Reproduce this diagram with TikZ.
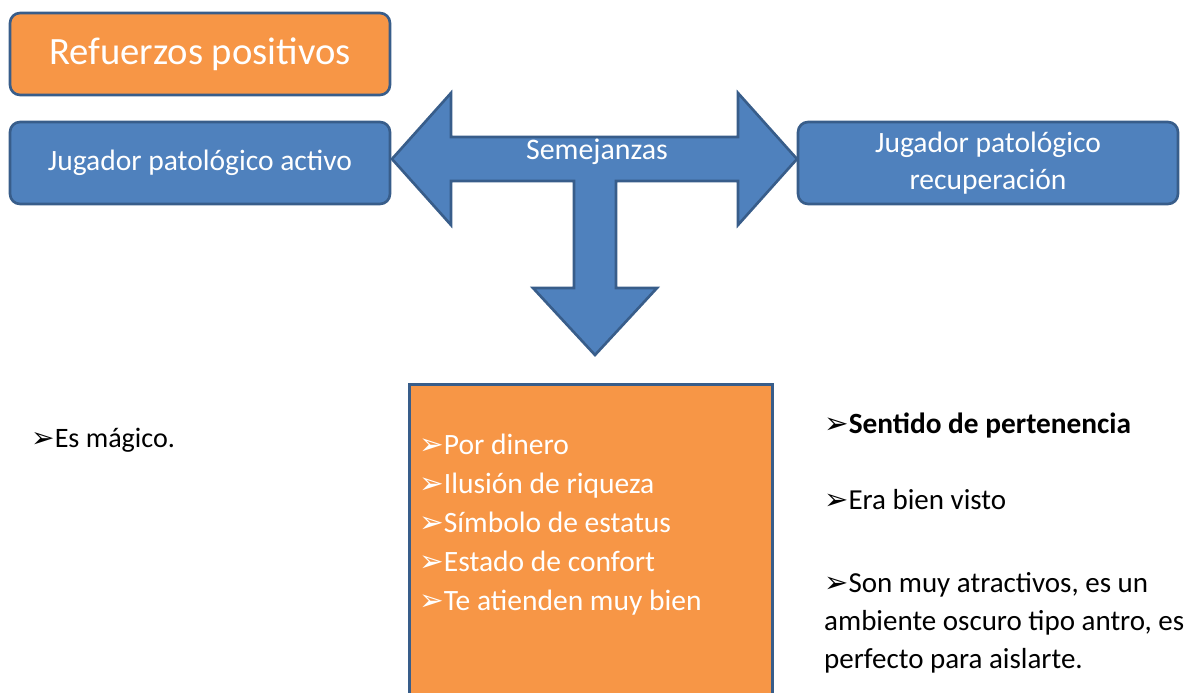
\documentclass[tikz,border=0pt]{standalone}
\usepackage{fontspec}
\setmainfont{Carlito}
\newfontfamily\symfont{DejaVu Sans}
\newcommand{\bul}{{\symfont\char"27A2}}
\definecolor{boxorange}{HTML}{F79646}
\definecolor{boxblue}{HTML}{4F81BD}
\definecolor{edgeblue}{HTML}{385D8A}

\begin{document}
\begin{tikzpicture}[x=0.02cm,y=-0.02cm,
  roundbox/.style={draw=edgeblue,line width=1.5pt,rounded corners=0.2cm,minimum width=7.6cm,minimum height=1.64cm,text=white,align=center},
  bluebox/.style={roundbox,fill=boxblue,font=\fontsize{16.8}{21}\selectfont},
  orangebox/.style={roundbox,fill=boxorange,font=\fontsize{22}{26}\selectfont},
  listbox/.style={draw=edgeblue,line width=1.5pt,fill=boxorange,anchor=north west,minimum width=7.26cm,minimum height=7cm},
  plaintext/.style={anchor=west,align=left,font=\fontsize{16.5}{21.8}\selectfont}]
\useasboundingbox (0,0) rectangle (1201,693);
\clip (0,0) rectangle (1201,693);

% Block arrow
\draw[fill=boxblue,draw=edgeblue,line width=1.5pt,line join=miter]
  (392,159) -- (451,93) -- (451,137) -- (738,137) -- (738,93) -- (797,159)
  -- (738,225) -- (738,181) -- (616,181) -- (616,288) -- (657,288)
  -- (595,355) -- (533,288) -- (574,288) -- (574,181) -- (451,181)
  -- (451,225) -- cycle;
\node[text=white,font=\fontsize{17}{21}\selectfont] (semejanzas) at (597,152) {Semejanzas};

% Top boxes
\node[orangebox] (refuerzos) at (200,54) {Refuerzos positivos};
\node[bluebox] (activo) at (200,163) {Jugador patológico activo};
\node[bluebox] (recuperacion) at (988,163) {Jugador patológico\\recuperación};

% Lists
\node[listbox] (comunes) at (408,383) {};
\node[plaintext,anchor=north west,text=white,font=\fontsize{16.8}{22.1}\selectfont] (razones) at (413,428)
  {\bul Por dinero\\\bul Ilusión de riqueza\\\bul Símbolo de estatus\\\bul Estado de confort\\\bul Te atienden muy bien};
\node[plaintext,font=\fontsize{16}{21}\selectfont] (magico) at (25,440) {\bul Es mágico.};
\node[plaintext,font=\fontsize{16.7}{21.8}\selectfont\bfseries] (pertenencia) at (818,425) {\bul Sentido de pertenencia};
\node[plaintext] (visto) at (818,500) {\bul Era bien visto};
\node[plaintext,anchor=north west] (antro) at (818,566)
  {\bul Son muy atractivos, es un\\ambiente oscuro tipo antro, es\\perfecto para aislarte.};

\end{tikzpicture}
\end{document}
